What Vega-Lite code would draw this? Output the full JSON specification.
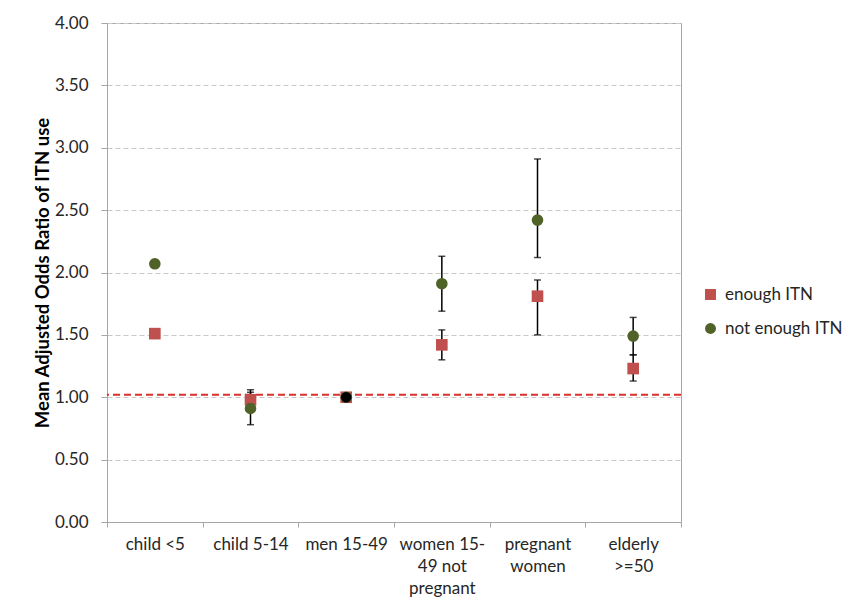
{
  "$schema": "https://vega.github.io/schema/vega-lite/v6.json",
  "width": 574,
  "height": 499,
  "autosize": "none",
  "padding": {"left": 107, "top": 23, "right": 164, "bottom": 92},
  "background": "white",
  "config": {
    "font": "Lato",
    "view": {"stroke": "#a6a6a6", "strokeWidth": 1}
  },
  "datasets": {
    "pts": [
      {"group": "child <5", "series": "enough ITN", "value": 1.51},
      {"group": "child <5", "series": "not enough ITN", "value": 2.07},
      {"group": "child 5-14", "series": "enough ITN", "value": 0.98, "lo": 0.9, "hi": 1.06},
      {"group": "child 5-14", "series": "not enough ITN", "value": 0.91, "lo": 0.78, "hi": 1.04},
      {"group": "men 15-49", "series": "enough ITN", "value": 1.0},
      {"group": "men 15-49", "series": "not enough ITN", "value": 1.0},
      {"group": "women 15-|49 not|pregnant", "series": "enough ITN", "value": 1.42, "lo": 1.3, "hi": 1.54},
      {"group": "women 15-|49 not|pregnant", "series": "not enough ITN", "value": 1.91, "lo": 1.69, "hi": 2.13},
      {"group": "pregnant|women", "series": "enough ITN", "value": 1.81, "lo": 1.5, "hi": 1.94},
      {"group": "pregnant|women", "series": "not enough ITN", "value": 2.42, "lo": 2.12, "hi": 2.91},
      {"group": "elderly|>=50", "series": "enough ITN", "value": 1.23, "lo": 1.13, "hi": 1.34},
      {"group": "elderly|>=50", "series": "not enough ITN", "value": 1.49, "lo": 1.34, "hi": 1.64}
    ],
    "ref": [
      {"group": "men 15-49", "value": 1.0}
    ]
  },
  "layer": [
    {
      "data": {"name": "pts"},
      "transform": [{"filter": "isValid(datum.lo)"}],
      "mark": {"type": "rule", "color": "#000000", "strokeWidth": 1.5},
      "encoding": {
        "x": {"field": "group", "type": "nominal"},
        "y": {"field": "lo", "type": "quantitative"},
        "y2": {"field": "hi"}
      }
    },
    {
      "data": {"name": "pts"},
      "transform": [{"filter": "isValid(datum.lo)"}],
      "mark": {"type": "tick", "color": "#000000", "size": 7, "thickness": 1.5, "orient": "horizontal"},
      "encoding": {
        "x": {"field": "group", "type": "nominal"},
        "y": {"field": "lo", "type": "quantitative"}
      }
    },
    {
      "data": {"name": "pts"},
      "transform": [{"filter": "isValid(datum.lo)"}],
      "mark": {"type": "tick", "color": "#000000", "size": 7, "thickness": 1.5, "orient": "horizontal"},
      "encoding": {
        "x": {"field": "group", "type": "nominal"},
        "y": {"field": "hi", "type": "quantitative"}
      }
    },
    {
      "data": {"values": [{}]},
      "mark": {"type": "rule", "color": "#d9302c", "strokeWidth": 2, "strokeDash": [7, 4]},
      "encoding": {
        "y": {"datum": 1.02, "type": "quantitative"}
      }
    },
    {
      "data": {"name": "pts"},
      "mark": {"type": "point", "filled": true, "opacity": 1, "size": 135},
      "encoding": {
        "x": {
          "field": "group",
          "type": "nominal",
          "scale": {
            "domain": ["child <5", "child 5-14", "men 15-49", "women 15-|49 not|pregnant", "pregnant|women", "elderly|>=50"],
            "paddingInner": 0,
            "paddingOuter": 0
          },
          "axis": {
            "title": null,
            "labelAngle": 0,
            "labelAlign": "center",
            "labelExpr": "split(datum.label, '|')",
            "tickBand": "extent",
            "labelFontSize": 17,
            "labelColor": "#262626",
            "labelLineHeight": 22,
            "labelPadding": 9,
            "tickSize": 5,
            "tickColor": "#a6a6a6",
            "domainColor": "#a6a6a6",
            "labelBaseline": "top"
          }
        },
        "y": {
          "field": "value",
          "type": "quantitative",
          "scale": {"domain": [0, 4], "nice": false, "zero": true},
          "axis": {
            "title": "Mean Adjusted Odds Ratio of ITN use",
            "titleFontSize": 18.5,
            "titleFontWeight": "bold",
            "titleColor": "#000000",
            "titlePadding": 2,
            "values": [0, 0.5, 1, 1.5, 2, 2.5, 3, 3.5, 4],
            "format": ".2f",
            "labelFontSize": 17,
            "labelColor": "#262626",
            "labelPadding": 13,
            "tickSize": 6,
            "tickColor": "#a6a6a6",
            "domainColor": "#a6a6a6",
            "grid": true,
            "gridColor": "#c8c8c8",
            "gridDash": [5, 3]
          }
        },
        "color": {
          "field": "series",
          "type": "nominal",
          "scale": {"domain": ["enough ITN", "not enough ITN"], "range": ["#c0504d", "#4f6228"]},
          "legend": {
            "title": null,
            "orient": "none",
            "legendX": 595,
            "legendY": 263,
            "labelFontSize": 17,
            "labelColor": "#262626",
            "symbolSize": 120,
            "rowPadding": 16,
            "labelOffset": 6
          }
        },
        "shape": {
          "field": "series",
          "type": "nominal",
          "scale": {"domain": ["enough ITN", "not enough ITN"], "range": ["square", "circle"]}
        }
      }
    },
    {
      "data": {"name": "ref"},
      "mark": {"type": "point", "shape": "circle", "filled": true, "color": "#000000", "opacity": 1, "size": 110},
      "encoding": {
        "x": {"field": "group", "type": "nominal"},
        "y": {"field": "value", "type": "quantitative"}
      }
    }
  ]
}
